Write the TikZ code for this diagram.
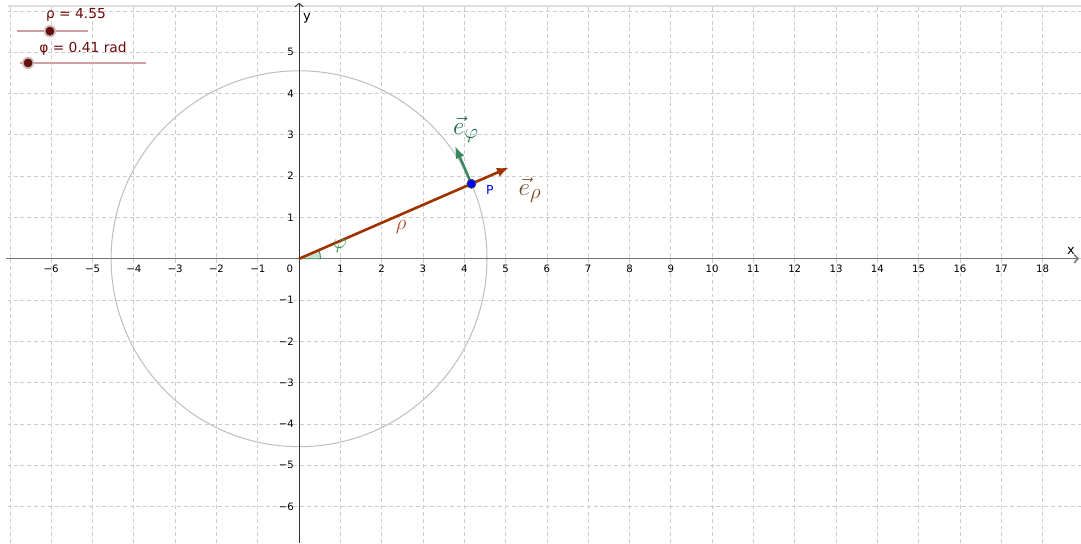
\documentclass[tikz,border=0pt]{standalone}
\usepackage{fontspec}
\setsansfont{DejaVu Sans}
\usetikzlibrary{arrows.meta}
\definecolor{rhobrown}{RGB}{160,50,0}
\definecolor{rholight}{RGB}{175,75,35}
\definecolor{ephigreen}{RGB}{60,135,95}
\definecolor{ephitext}{RGB}{25,105,65}
\definecolor{phigreen}{RGB}{40,150,70}
\definecolor{anglefill}{RGB}{200,228,210}
\definecolor{erhotext}{RGB}{115,75,35}
\definecolor{sliderred}{RGB}{110,10,10}
\definecolor{sliderline}{RGB}{205,160,160}
\definecolor{gridgray}{RGB}{205,205,205}
\begin{document}
\begin{tikzpicture}[
    gridline/.style={gridgray, dash pattern=on 2.7pt off 2pt, line width=0.5pt},
    ticklabel/.style={font=\sffamily\fontsize{7}{8}\selectfont, inner sep=0pt},
    slidertext/.style={font=\sffamily\fontsize{9.5}{11}\selectfont, text=sliderred},
    sliderbar/.style={sliderline, line width=1.4pt},
    handle/.style={fill=sliderred, draw=black!80, line width=0.4pt},
    halo/.style={fill=sliderline!70},
    vecarrow/.style={line width=1.8pt, -{Latex[length=3mm,width=2.3mm]}},
    axisarrow/.style={-{Straight Barb[length=0.9mm,width=2mm]}}
]
\fill[white] (-7.24,-6.884) rectangle (18.93,6.264);
\useasboundingbox (-7.24,-6.884) rectangle (18.93,6.264);

% grid and frame
\begin{scope}
    \clip (-7.05,-6.884) rectangle (18.93,6.12);
    \draw[gridline] (-7.24,-6.884) grid (18.93,6.264);
\end{scope}
\draw[gray!25, line width=1.5pt] (-7.05,6.12) -- (18.93,6.12);

\coordinate (O) at (0,0);
\coordinate (P) at (4.173,1.814);
\coordinate (Er) at (5.090,2.213);
\coordinate (Ep) at (3.774,2.731);

% circle of radius rho
\draw[gray!50, line width=0.7pt] (O) circle (4.55);

% axes
\draw[black!55, line width=1pt, axisarrow] (-7.1,0) -- (18.88,0);
\draw[black!80, line width=0.6pt, axisarrow] (0,-6.884) -- (0,6.2);
\node[font=\sffamily\fontsize{9}{10}\selectfont] (xname) at (18.69,0.19) {x};
\node[font=\sffamily\fontsize{9}{10}\selectfont] (yname) at (0.19,5.83) {y};
\foreach \x [count=\i] in {-6,...,-1,1,2,...,18}
    \node[ticklabel] (xl\i) at (\x,-0.25) {\ifnum\x<0 \char"2212\relax\number\numexpr-\x\relax\else\x\fi};
\foreach \y [count=\i] in {-6,...,-1,1,2,...,5}
    \node[ticklabel, anchor=east] (yl\i) at (-0.12,\y) {\ifnum\y<0 \char"2212\relax\number\numexpr-\y\relax\else\y\fi};
\node[ticklabel] (zero) at (-0.22,-0.25) {0};

% angle phi
\filldraw[fill=anglefill, draw=ephigreen, line width=0.6pt]
    (O) -- (0.52,0) arc[start angle=0, end angle=23.49, radius=0.52] -- cycle;

% vectors
\draw[rhobrown, line width=1.8pt] (O) -- (P);
\draw[vecarrow, rhobrown] (P) -- (Er);
\draw[vecarrow, ephigreen] (P) -- (Ep);
\filldraw[fill=blue, draw=black!70, line width=0.5pt] (P) circle (0.11);

% labels
\node[text=blue, font=\sffamily\fontsize{8.5}{10}\selectfont] (Plabel) at (4.62,1.66) {P};
\node[text=rholight, font=\fontsize{14}{16}\selectfont] (rholabel) at (2.47,0.77) {$\rho$};
\node[text=phigreen, font=\fontsize{14}{16}\selectfont] (philabel) at (0.99,0.31) {$\varphi$};
\node[text=ephitext, font=\fontsize{19}{22}\selectfont] (ephilabel) at (4.04,3.12) {$\vec{e}_{\varphi}$};
\node[text=erhotext, font=\fontsize{19}{22}\selectfont] (erholabel) at (5.59,1.66) {$\vec{e}_{\rho}$};

% sliders
\node[slidertext] (rhotext) at (-5.40,5.90) {ρ = 4.55};
\draw[sliderbar] (-6.83,5.51) -- (-5.11,5.51);
\fill[halo] (-6.03,5.51) circle (0.15);
\filldraw[handle] (-6.03,5.51) circle (0.1);
\node[slidertext] (phitext) at (-5.23,5.08) {φ = 0.41 rad};
\draw[sliderbar] (-6.76,4.74) -- (-3.70,4.74);
\fill[halo] (-6.56,4.74) circle (0.15);
\filldraw[handle] (-6.56,4.74) circle (0.1);
\end{tikzpicture}
\end{document}
